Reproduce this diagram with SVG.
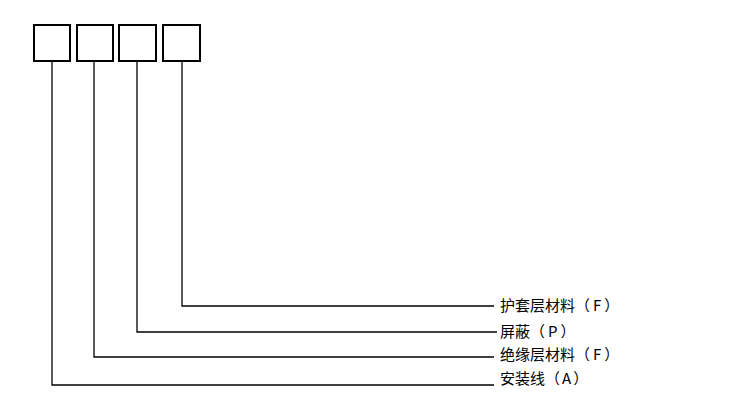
<svg xmlns="http://www.w3.org/2000/svg" width="729" height="418" viewBox="0 0 729 418">
<style>
.box{fill:#fff;stroke:#000;stroke-width:2}
.ln{fill:none;stroke:#000;stroke-width:1.3}
.lbl{font-family:"Noto Sans CJK SC","Microsoft YaHei",sans-serif;font-size:15px;fill:#000}
</style>
<rect width="729" height="418" fill="#fff"/>
<g id="box-a"><rect class="box" x="34" y="25" width="36" height="36"/></g>
<g id="box-f1"><rect class="box" x="77" y="25" width="36" height="36"/></g>
<g id="box-p"><rect class="box" x="119" y="25" width="37" height="36"/></g>
<g id="box-f2"><rect class="box" x="163" y="25" width="37" height="36"/></g>
<g id="connectors">
<polyline class="ln" points="182,62 182,306 494,306"/>
<polyline class="ln" points="137,62 137,332 497,332"/>
<polyline class="ln" points="94,62 94,357 494,357"/>
<polyline class="ln" points="52,62 52,385 494,385"/>
</g>
<g id="label-f2"><text class="lbl" x="500" y="310.5">护套层材料（<tspan dx="3">F</tspan><tspan dx="3">）</tspan></text></g>
<g id="label-p"><text class="lbl" x="500" y="336.5">屏蔽（<tspan dx="3">P</tspan><tspan dx="3">）</tspan></text></g>
<g id="label-f1"><text class="lbl" x="500" y="359.5">绝缘层材料（<tspan dx="3">F</tspan><tspan dx="3">）</tspan></text></g>
<g id="label-a"><text class="lbl" x="500" y="384">安装线（<tspan dx="2">A</tspan><tspan dx="2">）</tspan></text></g>
</svg>
